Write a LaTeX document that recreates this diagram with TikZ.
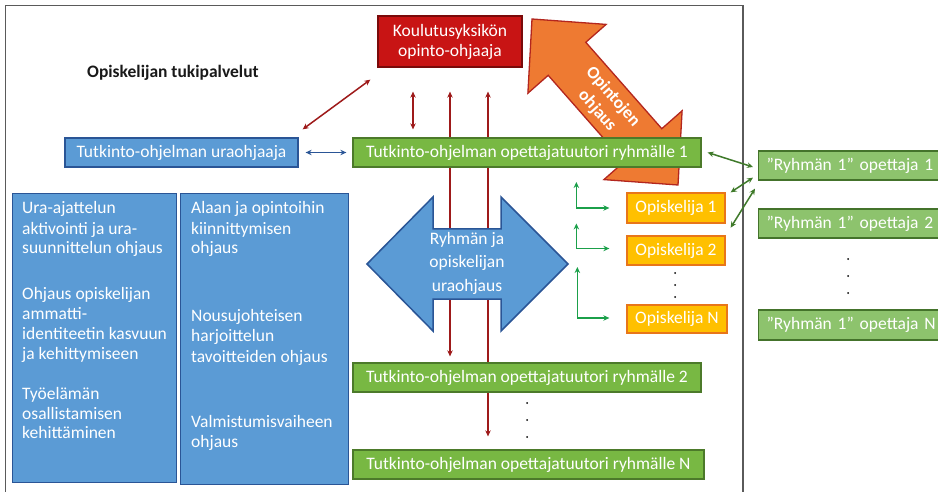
\documentclass[tikz,border=0pt]{standalone}
\usepackage{fontspec}
\setmainfont{Carlito}
\usetikzlibrary{arrows.meta,calc,backgrounds}
\definecolor{frameC}{HTML}{5A5A5A}
\definecolor{redF}{HTML}{C81414}
\definecolor{redD}{HTML}{7A0A0A}
\definecolor{redA}{HTML}{9E1A1A}
\definecolor{blueF}{HTML}{5B9BD5}
\definecolor{blueD}{HTML}{2A5596}
\definecolor{greenF}{HTML}{78B843}
\definecolor{greenD}{HTML}{4C7A2A}
\definecolor{lgF}{HTML}{8DC36D}
\definecolor{lgD}{HTML}{44732B}
\definecolor{orF}{HTML}{FFC000}
\definecolor{orD}{HTML}{E8761A}
\definecolor{bigOrF}{HTML}{EE7A32}
\definecolor{bigOrD}{HTML}{B3261E}
\definecolor{lArr}{HTML}{1BA04A}
\definecolor{dArr}{HTML}{3F7A2A}
\begin{document}
\begin{tikzpicture}[x=1pt,y=-1pt,
  >={Stealth[length=6pt,width=5.5pt]},
  every node/.style={font=\fontsize{17.5}{20}\selectfont},
  box/.style={draw, line width=1.3pt, inner sep=0pt, minimum height=29pt, text=white},
  bluebox/.style={box, fill=blueF, draw=blueD},
  greenbox/.style={box, fill=greenF, draw=greenD},
  lgbox/.style={box, fill=lgF, draw=lgD, anchor=west, text width=176pt, align=left, inner xsep=8pt},
  orbox/.style={box, fill=orF, draw=orD},
  redarr/.style={draw=redA, line width=1.5pt, <->},
  bluearr/.style={draw=blueD, line width=1.5pt, <->},
  larr/.style={draw=lArr, line width=1.5pt, <->},
  darr/.style={draw=dArr, line width=1.5pt, <->},
  lefttext/.style={anchor=base west, text=white, inner sep=0pt},
  dotnode/.style={circle, fill=black, inner sep=0pt, minimum size=2pt}
]
\clip (0,0) rectangle (938,492);

% boxes with text
\node[box, fill=redF, draw=redD, minimum width=144pt, minimum height=51pt, align=center] (koulu) at (450,41.5) {Koulutusyksikön\\opinto-ohjaaja};
\node[bluebox, minimum width=233pt] (ura) at (181.5,152.5) {Tutkinto-ohjelman uraohjaaja};
\node[greenbox, minimum width=348pt] (g1) at (527,152.5) {Tutkinto-ohjelman opettajatuutori ryhmälle 1};
\node[greenbox, minimum width=348pt] (g2) at (527,377.5) {Tutkinto-ohjelman opettajatuutori ryhmälle 2};
\node[greenbox, minimum width=351pt] (gN) at (528.5,464.5) {Tutkinto-ohjelman opettajatuutori ryhmälle N};

\node[orbox, minimum width=98pt, minimum height=30pt] (o1) at (676,208) {Opiskelija 1};
\node[orbox, minimum width=98pt] (o2) at (676,250.5) {Opiskelija 2};
\node[orbox, minimum width=100pt, minimum height=28pt] (oN) at (677,319) {Opiskelija N};

\node[lgbox] (r1) at (758,165.5) {”Ryhmän 1” opettaja 1};
\node[lgbox] (r2) at (758,223.5) {”Ryhmän 1” opettaja 2};
\node[lgbox, minimum height=30pt] (rN) at (758,325) {”Ryhmän 1” opettaja N};

\node[font=\bfseries\fontsize{17.5}{20}\selectfont, text=black!90, anchor=west, inner sep=0pt] (title) at (87,73) {Opiskelijan tukipalvelut};

% left tall boxes
\node[bluebox, anchor=north west, minimum width=164pt, minimum height=289pt] (boxA) at (12,193) {};
\node[bluebox, anchor=north west, minimum width=168pt, minimum height=291pt] (boxB) at (180,193) {};
\foreach \n/\y/\t in {1/214/Ura-ajattelun, 2/234/aktivointi ja ura-, 3/254/suunnittelun ohjaus,
  4/299/Ohjaus opiskelijan, 5/319/ammatti-, 6/339/identiteetin kasvuun, 7/359/ja kehittymiseen,
  8/399/Työelämän, 9/419/osallistamisen, 10/438/kehittäminen}
  \node[lefttext] (la\n) at (22,\y) {\t};
\foreach \n/\y/\t in {1/214/Alaan ja opintoihin, 2/234/kiinnittymisen, 3/254/ohjaus,
  4/321/Nousujohteisen, 5/341/harjoittelun, 6/362/tavoitteiden ohjaus,
  7/427/Valmistumisvaiheen, 8/447/ohjaus}
  \node[lefttext] (lb\n) at (191,\y) {\t};

% orange arrow label
\node[text=white, rotate=-48.7, align=center, font=\bfseries\fontsize{17.5}{21}\selectfont] (otext) at (605,104) {Opintojen\\ohjaus};

\begin{scope}[on background layer]
  \fill[white] (0,0) rectangle (938,492);
  \draw[frameC, line width=1.2pt] (5.5,5.5) rectangle (743,520);
  % red vertical connectors (behind boxes and the blue arrow)
  \draw[redarr] ($(koulu.south)+(0,24)$) -- ($(g2.north)+(-77,-6)$);
  \draw[redarr] ($(koulu.south)+(38,24)$) -- ($(gN.north)+(-40.5,-13)$);
  % big orange double arrow
  \draw[fill=bigOrF, draw=bigOrD, line width=1.3pt, line join=miter]
    (532,19) -- (606.1,24.4) -- (585.8,42.3) -- (661.8,128.7) -- (682.1,110.8)
    -- (678,185) -- (603.9,179.6) -- (624.2,161.7) -- (548.2,75.3) -- (527.9,93.2) -- cycle;
  % big blue double arrow
  \draw[fill=blueF, draw=blueD, line width=1.5pt, line join=miter]
    (367,264) -- (433,197) -- (433,229) -- (501,229) -- (501,197) -- (568,264)
    -- (501,331) -- (501,299) -- (433,299) -- (433,331) -- cycle;
\end{scope}
\node[text=white, align=center, font=\fontsize{17.5}{23.5}\selectfont] (btext) at (467,263) {Ryhmän ja\\opiskelijan\\uraohjaus};

% red connectors to koulutusyksikkö
\draw[redarr] ($(ura.north east)+(4,-8)$) -- ($(koulu.south west)+(-7,12)$);
\draw[redarr] ($(koulu.south)+(-37,24)$) -- ($(g1.north)+(-114,-8)$);

% blue connector
\draw[bluearr, shorten <=7pt, shorten >=6pt] (ura.east) -- (g1.west);

% green L connectors
\draw[larr] ($(o1.west)+(-50,-26)$) |- ($(o1.west)+(-17,0)$);
\draw[larr] ($(o2.west)+(-50,-27)$) |- ($(o2.west)+(-17,-2)$);
\draw[larr] ($(oN.west)+(-49,-52)$) |- ($(oN.west)+(-17,-1)$);

% dark green diagonal connectors
\draw[darr] ($(g1.east)+(6,0)$) -- ($(r1.west)+(-5,1.5)$);
\draw[darr] ($(o1.north east)+(5,0)$) -- ($(r1.south west)+(-5,-3)$);
\draw[darr] ($(o1.south east)+(5,4)$) -- ($(r1.south west)+(-3,8)$);

% dots
\node[dotnode] (da1) at (675,273) {};
\node[dotnode] (da2) at (675,285) {};
\node[dotnode] (da3) at (675,297) {};
\node[dotnode] (db1) at (527,403) {};
\node[dotnode] (db2) at (527,420) {};
\node[dotnode] (db3) at (527,437) {};
\node[dotnode] (dc1) at (848,259) {};
\node[dotnode] (dc2) at (848,276) {};
\node[dotnode] (dc3) at (848,293) {};
\end{tikzpicture}
\end{document}
